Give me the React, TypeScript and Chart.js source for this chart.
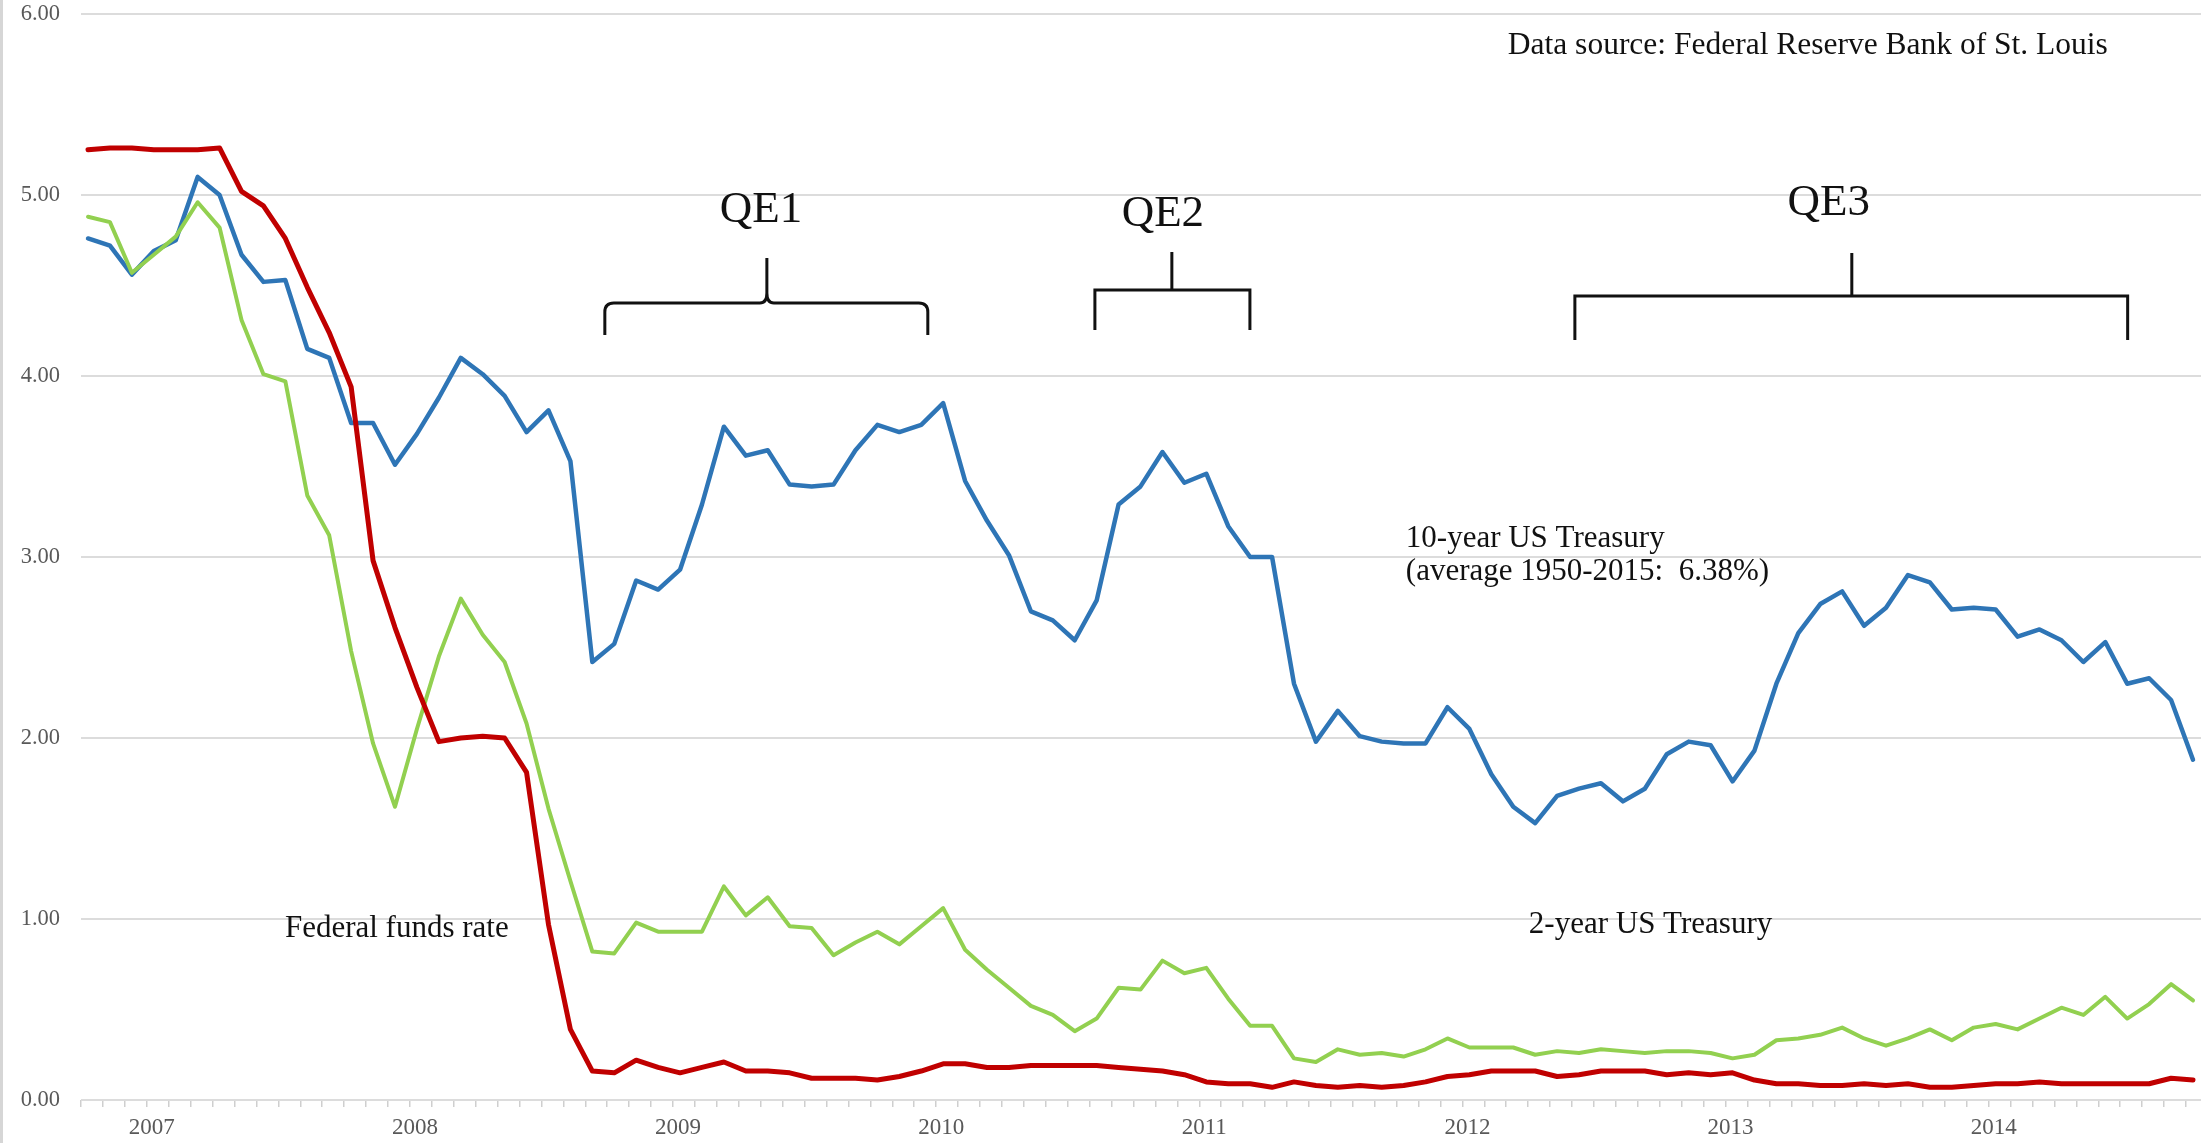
import { useEffect, useRef } from 'react';
import { Chart, registerables } from 'chart.js';

Chart.register(...registerables);

// ---- Data (monthly, Jan 2007 – Jan 2015) ----
const yearLabels = ['2007', '2008', '2009', '2010', '2011', '2012', '2013', '2014'];

const tenYearTreasury = [
  4.76, 4.72, 4.56, 4.69, 4.75, 5.10, 5.00, 4.67, 4.52, 4.53, 4.15, 4.10,
  3.74, 3.74, 3.51, 3.68, 3.88, 4.10, 4.01, 3.89, 3.69, 3.81, 3.53, 2.42,
  2.52, 2.87, 2.82, 2.93, 3.29, 3.72, 3.56, 3.59, 3.40, 3.39, 3.40, 3.59,
  3.73, 3.69, 3.73, 3.85, 3.42, 3.20, 3.01, 2.70, 2.65, 2.54, 2.76, 3.29,
  3.39, 3.58, 3.41, 3.46, 3.17, 3.00, 3.00, 2.30, 1.98, 2.15, 2.01, 1.98,
  1.97, 1.97, 2.17, 2.05, 1.80, 1.62, 1.53, 1.68, 1.72, 1.75, 1.65, 1.72,
  1.91, 1.98, 1.96, 1.76, 1.93, 2.30, 2.58, 2.74, 2.81, 2.62, 2.72, 2.90,
  2.86, 2.71, 2.72, 2.71, 2.56, 2.60, 2.54, 2.42, 2.53, 2.30, 2.33, 2.21,
  1.88,
];

const twoYearTreasury = [
  4.88, 4.85, 4.57, 4.67, 4.77, 4.96, 4.82, 4.31, 4.01, 3.97, 3.34, 3.12,
  2.48, 1.97, 1.62, 2.05, 2.45, 2.77, 2.57, 2.42, 2.08, 1.61, 1.21, 0.82,
  0.81, 0.98, 0.93, 0.93, 0.93, 1.18, 1.02, 1.12, 0.96, 0.95, 0.80, 0.87,
  0.93, 0.86, 0.96, 1.06, 0.83, 0.72, 0.62, 0.52, 0.47, 0.38, 0.45, 0.62,
  0.61, 0.77, 0.70, 0.73, 0.56, 0.41, 0.41, 0.23, 0.21, 0.28, 0.25, 0.26,
  0.24, 0.28, 0.34, 0.29, 0.29, 0.29, 0.25, 0.27, 0.26, 0.28, 0.27, 0.26,
  0.27, 0.27, 0.26, 0.23, 0.25, 0.33, 0.34, 0.36, 0.40, 0.34, 0.30, 0.34,
  0.39, 0.33, 0.40, 0.42, 0.39, 0.45, 0.51, 0.47, 0.57, 0.45, 0.53, 0.64,
  0.55,
];

const fedFundsRate = [
  5.25, 5.26, 5.26, 5.25, 5.25, 5.25, 5.26, 5.02, 4.94, 4.76, 4.49, 4.24,
  3.94, 2.98, 2.61, 2.28, 1.98, 2.00, 2.01, 2.00, 1.81, 0.97, 0.39, 0.16,
  0.15, 0.22, 0.18, 0.15, 0.18, 0.21, 0.16, 0.16, 0.15, 0.12, 0.12, 0.12,
  0.11, 0.13, 0.16, 0.20, 0.20, 0.18, 0.18, 0.19, 0.19, 0.19, 0.19, 0.18,
  0.17, 0.16, 0.14, 0.10, 0.09, 0.09, 0.07, 0.10, 0.08, 0.07, 0.08, 0.07,
  0.08, 0.10, 0.13, 0.14, 0.16, 0.16, 0.16, 0.13, 0.14, 0.16, 0.16, 0.16,
  0.14, 0.15, 0.14, 0.15, 0.11, 0.09, 0.09, 0.08, 0.08, 0.09, 0.08, 0.09,
  0.07, 0.07, 0.08, 0.09, 0.09, 0.10, 0.09, 0.09, 0.09, 0.09, 0.09, 0.12,
  0.11,
];

const yTickValues = [0, 1, 2, 3, 4, 5, 6];

// ---- Annotations (placed in data coordinates: x = month index, y = percent) ----
const FONT = '"Liberation Serif", "Times New Roman", Times, serif';

const textNotes = [
  { text: 'Data source: Federal Reserve Bank of St. Louis', x: 64.75, y: 5.78, size: 31.5, align: 'left' },
  { text: 'QE1', x: 30.69, y: 4.85, size: 45, align: 'center' },
  { text: 'QE2', x: 49.02, y: 4.83, size: 45, align: 'center' },
  { text: 'QE3', x: 79.39, y: 4.89, size: 45, align: 'center' },
  { text: '10-year US Treasury', x: 60.1, y: 3.055, size: 31, align: 'left' },
  { text: '(average 1950-2015:  6.38%)', x: 60.1, y: 2.873, size: 31, align: 'left' },
  { text: 'Federal funds rate', x: 8.98, y: 0.90, size: 31, align: 'left' },
  { text: '2-year US Treasury', x: 65.71, y: 0.92, size: 31, align: 'left' },
];

const braces = [
  { kind: 'curly', left: 23.57, right: 38.3, stem: 30.96, bar: 4.403, foot: 4.227, top: 4.652 },
  { kind: 'square', left: 45.92, right: 52.99, stem: 49.43, bar: 4.475, foot: 4.254, top: 4.685 },
  { kind: 'square', left: 67.81, right: 93.02, stem: 80.44, bar: 4.442, foot: 4.199, top: 4.68 },
];

const X_SHIFT = 0.32; // tick marks sit slightly left of each monthly point

const notesPlugin = {
  id: 'notes',
  afterDraw(chart: any) {
    const { ctx, scales } = chart;
    const xs = scales.x;
    const ys = scales.y;
    ctx.save();
    // faint frame line on the left edge
    ctx.fillStyle = '#d6d6d6';
    ctx.fillRect(0, 0, 3, chart.height);

    ctx.fillStyle = '#111111';
    ctx.textBaseline = 'alphabetic';
    for (const n of textNotes) {
      ctx.font = `${n.size}px ${FONT}`;
      ctx.textAlign = n.align as CanvasTextAlign;
      ctx.fillText(n.text, xs.getPixelForValue(n.x), ys.getPixelForValue(n.y));
    }

    ctx.strokeStyle = '#111111';
    ctx.lineWidth = 3;
    ctx.lineJoin = 'miter';
    ctx.lineCap = 'butt';
    for (const b of braces) {
      const L = xs.getPixelForValue(b.left);
      const R = xs.getPixelForValue(b.right);
      const S = xs.getPixelForValue(b.stem);
      const H = ys.getPixelForValue(b.bar);
      const B = ys.getPixelForValue(b.foot);
      const T = ys.getPixelForValue(b.top);
      ctx.beginPath();
      if (b.kind === 'curly') {
        const r = 9;
        ctx.moveTo(L, B);
        ctx.lineTo(L, H + r);
        ctx.quadraticCurveTo(L, H, L + r, H);
        ctx.lineTo(S - 7, H);
        ctx.quadraticCurveTo(S, H, S, H - 10);
        ctx.lineTo(S, T);
        ctx.moveTo(S, H - 10);
        ctx.quadraticCurveTo(S, H, S + 7, H);
        ctx.lineTo(R - r, H);
        ctx.quadraticCurveTo(R, H, R, H + r);
        ctx.lineTo(R, B);
      } else {
        ctx.moveTo(L, B);
        ctx.lineTo(L, H);
        ctx.lineTo(R, H);
        ctx.lineTo(R, B);
        ctx.moveTo(S, H);
        ctx.lineTo(S, T);
      }
      ctx.stroke();
    }
    ctx.restore();
  },
};

const toPoints = (arr: number[]) => arr.map((v, i) => ({ x: i, y: v }));

export default function App() {
  const canvasRef = useRef<HTMLCanvasElement | null>(null);

  useEffect(() => {
    const canvas = canvasRef.current;
    if (!canvas) return;
    const chart = new Chart(canvas, {
      type: 'line',
      data: {
        datasets: [
          {
            label: 'Federal funds rate',
            data: toPoints(fedFundsRate),
            borderColor: '#C00000',
            borderWidth: 5,
          },
          {
            label: '2-year US Treasury',
            data: toPoints(twoYearTreasury),
            borderColor: '#92D050',
            borderWidth: 4,
          },
          {
            label: '10-year US Treasury',
            data: toPoints(tenYearTreasury),
            borderColor: '#2E75B6',
            borderWidth: 4.5,
          },
        ],
      },
      options: {
        animation: false,
        responsive: false,
        devicePixelRatio: 1,
        layout: { padding: { top: 14, right: 0, left: 0, bottom: 0 } },
        elements: {
          point: { radius: 0, hoverRadius: 0 },
          line: { tension: 0, borderJoinStyle: 'round', borderCapStyle: 'round', fill: false },
        },
        plugins: {
          legend: { display: false },
          tooltip: { enabled: false },
        },
        scales: {
          x: {
            type: 'linear',
            min: -X_SHIFT,
            max: tenYearTreasury.length - 1 + 0.365,
            afterBuildTicks: (scale: any) => {
              scale.ticks = tenYearTreasury.map((_, i) => ({ value: i - X_SHIFT }));
            },
            afterFit: (scale: any) => {
              scale.height = 43;
              scale.paddingLeft = 0;
              scale.paddingRight = 0;
            },
            grid: {
              display: true,
              drawOnChartArea: false,
              drawTicks: true,
              tickLength: 7,
              color: '#cfcfcf',
              lineWidth: 1.5,
            },
            border: { display: false },
            ticks: {
              autoSkip: false,
              maxRotation: 0,
              minRotation: 0,
              padding: 7,
              labelOffset: 5,
              color: '#595959',
              font: { family: FONT, size: 23 },
              callback: (_v: any, i: number) =>
                i % 12 === 3 ? yearLabels[(i - 3) / 12] : '',
            },
          },
          y: {
            min: 0,
            max: 6,
            afterBuildTicks: (scale: any) => {
              scale.ticks = yTickValues.map((v) => ({ value: v }));
            },
            afterFit: (scale: any) => {
              scale.width = 81;
              scale.paddingTop = 0;
              scale.paddingBottom = 0;
            },
            grid: { color: '#dcdcdc', lineWidth: 2, drawTicks: false },
            border: { display: false },
            ticks: {
              padding: 21,
              color: '#595959',
              font: { family: FONT, size: 22.5 },
              callback: (v: any) => Number(v).toFixed(2),
            },
          },
        },
      },
      plugins: [notesPlugin],
    });
    return () => chart.destroy();
  }, []);

  return (
    <div
      style={{
        position: 'absolute',
        left: 0,
        top: 0,
        width: 2201,
        height: 1143,
        background: '#ffffff',
      }}
    >
      <canvas ref={canvasRef} width={2201} height={1143} style={{ display: 'block' }} />
    </div>
  );
}
